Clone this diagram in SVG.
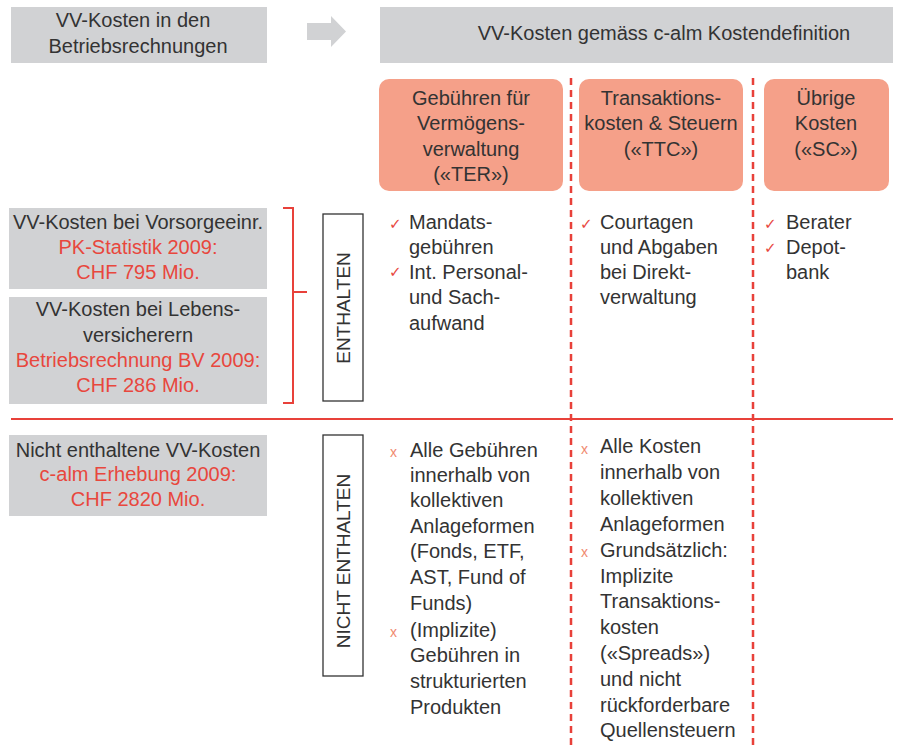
<svg xmlns="http://www.w3.org/2000/svg" width="898" height="746" viewBox="0 0 898 746">
<style>
text{font-family:"Liberation Sans",Arial,sans-serif;font-size:20px;fill:#333333}
.c{text-anchor:middle}
.r{fill:#e8473d}
.gray{fill:#d1d2d4}
.sal{fill:#f5a089}
.chk{fill:#e8473d;font-family:"DejaVu Sans",sans-serif;font-size:15px}
.x{fill:#f08a70;font-size:14px}
.lbl{fill:#ffffff;stroke:#333333;stroke-width:1.3}
.dash{stroke:#e8413a;stroke-width:2.5;stroke-dasharray:7 5;fill:none}
</style>
<g id="hdr-left"><rect class="gray" x="11" y="7" width="256" height="56"/><text class="c" x="133" y="27">VV-Kosten in den</text><text class="c" x="138" y="53">Betriebsrechnungen</text></g>
<g id="hdr-arrow"><polygon fill="#d1d2d4" points="307,23 331,23 331,16 346,31.5 331,47 331,40 307,40"/></g>
<g id="hdr-right"><rect class="gray" x="380" y="7" width="513" height="56"/><text class="c" x="664" y="40">VV-Kosten gemäss c-alm Kostendefinition</text></g>
<g id="connectors">
<line class="dash" x1="571" y1="78" x2="571" y2="746"/>
<line class="dash" x1="753" y1="78" x2="753" y2="746"/>
<line x1="11" y1="419" x2="893" y2="419" stroke="#e8413a" stroke-width="2"/>
<path d="M283,208 H293 V292 H307 M293,292 V403 H283" fill="none" stroke="#e8413a" stroke-width="2"/>
</g>
<g id="cat-ter"><rect class="sal" x="379" y="79" width="184" height="112" rx="10"/><text class="c" x="471" y="105">Gebühren für</text><text class="c" x="471" y="130">Vermögens-</text><text class="c" x="471" y="156">verwaltung</text><text class="c" x="471" y="181">(«TER»)</text></g>
<g id="cat-ttc"><rect class="sal" x="579" y="79" width="164" height="112" rx="10"/><text class="c" x="661" y="105">Transaktions-</text><text class="c" x="661" y="130">kosten &amp; Steuern</text><text class="c" x="661" y="156">(«TTC»)</text></g>
<g id="cat-sc"><rect class="sal" x="764" y="79" width="125" height="112" rx="10"/><text class="c" x="826" y="105">Übrige</text><text class="c" x="826" y="130">Kosten</text><text class="c" x="826" y="156">(«SC»)</text></g>
<g id="src-pk"><rect class="gray" x="9" y="208" width="258" height="81"/><text class="c" x="138" y="229">VV-Kosten bei Vorsorgeeinr.</text><text class="c r" x="138" y="254">PK-Statistik 2009:</text><text class="c r" x="138" y="279">CHF 795 Mio.</text></g>
<g id="src-lv"><rect class="gray" x="9" y="297" width="258" height="107"/><text class="c" x="138" y="316">VV-Kosten bei Lebens-</text><text class="c" x="138" y="342">versicherern</text><text class="c r" x="138" y="367">Betriebsrechnung BV 2009:</text><text class="c r" x="138" y="392">CHF 286 Mio.</text></g>
<g id="src-nicht"><rect class="gray" x="9" y="435" width="258" height="81"/><text class="c" x="138" y="457">Nicht enthaltene VV-Kosten</text><text class="c r" x="138" y="481">c-alm Erhebung 2009:</text><text class="c r" x="138" y="506">CHF 2820 Mio.</text></g>
<g id="lbl-enthalten"><rect class="lbl" x="323" y="214" width="40" height="187"/><text class="c" transform="translate(350,308) rotate(-90)" style="font-size:19px">ENTHALTEN</text></g>
<g id="lbl-nicht"><rect class="lbl" x="323" y="435" width="40" height="241"/><text class="c" transform="translate(350,561) rotate(-90)" style="font-size:19px">NICHT ENTHALTEN</text></g>
<g id="in-ter"><text class="chk" x="389" y="229">✓</text><text class="chk" x="389" y="277">✓</text>
<text x="409" y="229">Mandats-</text><text x="409" y="254">gebühren</text><text x="409" y="279">Int. Personal-</text><text x="409" y="304">und Sach-</text><text x="409" y="330">aufwand</text></g>
<g id="in-ttc"><text class="chk" x="580" y="229">✓</text>
<text x="600" y="229">Courtagen</text><text x="600" y="254">und Abgaben</text><text x="600" y="279">bei Direkt-</text><text x="600" y="304">verwaltung</text></g>
<g id="in-sc"><text class="chk" x="764" y="229">✓</text><text class="chk" x="764" y="253">✓</text>
<text x="786" y="229">Berater</text><text x="786" y="254">Depot-</text><text x="786" y="279">bank</text></g>
<g id="out-ter"><text class="x" x="390" y="457">x</text><text class="x" x="390" y="637">x</text>
<text x="410" y="457">Alle Gebühren</text><text x="410" y="482">innerhalb von</text><text x="410" y="507">kollektiven</text><text x="410" y="533">Anlageformen</text><text x="410" y="558">(Fonds, ETF,</text><text x="410" y="584">AST, Fund of</text><text x="410" y="610">Funds)</text><text x="410" y="637">(Implizite)</text><text x="410" y="662">Gebühren in</text><text x="410" y="688">strukturierten</text><text x="410" y="714">Produkten</text></g>
<g id="out-ttc"><text class="x" x="581" y="454">x</text><text class="x" x="581" y="557">x</text>
<text x="600" y="453">Alle Kosten</text><text x="600" y="479">innerhalb von</text><text x="600" y="505">kollektiven</text><text x="600" y="531">Anlageformen</text><text x="600" y="557">Grundsätzlich:</text><text x="600" y="583">Implizite</text><text x="600" y="608">Transaktions-</text><text x="600" y="634">kosten</text><text x="600" y="660">(«Spreads»)</text><text x="600" y="686">und nicht</text><text x="600" y="712">rückforderbare</text><text x="600" y="737">Quellensteuern</text></g>
</svg>
